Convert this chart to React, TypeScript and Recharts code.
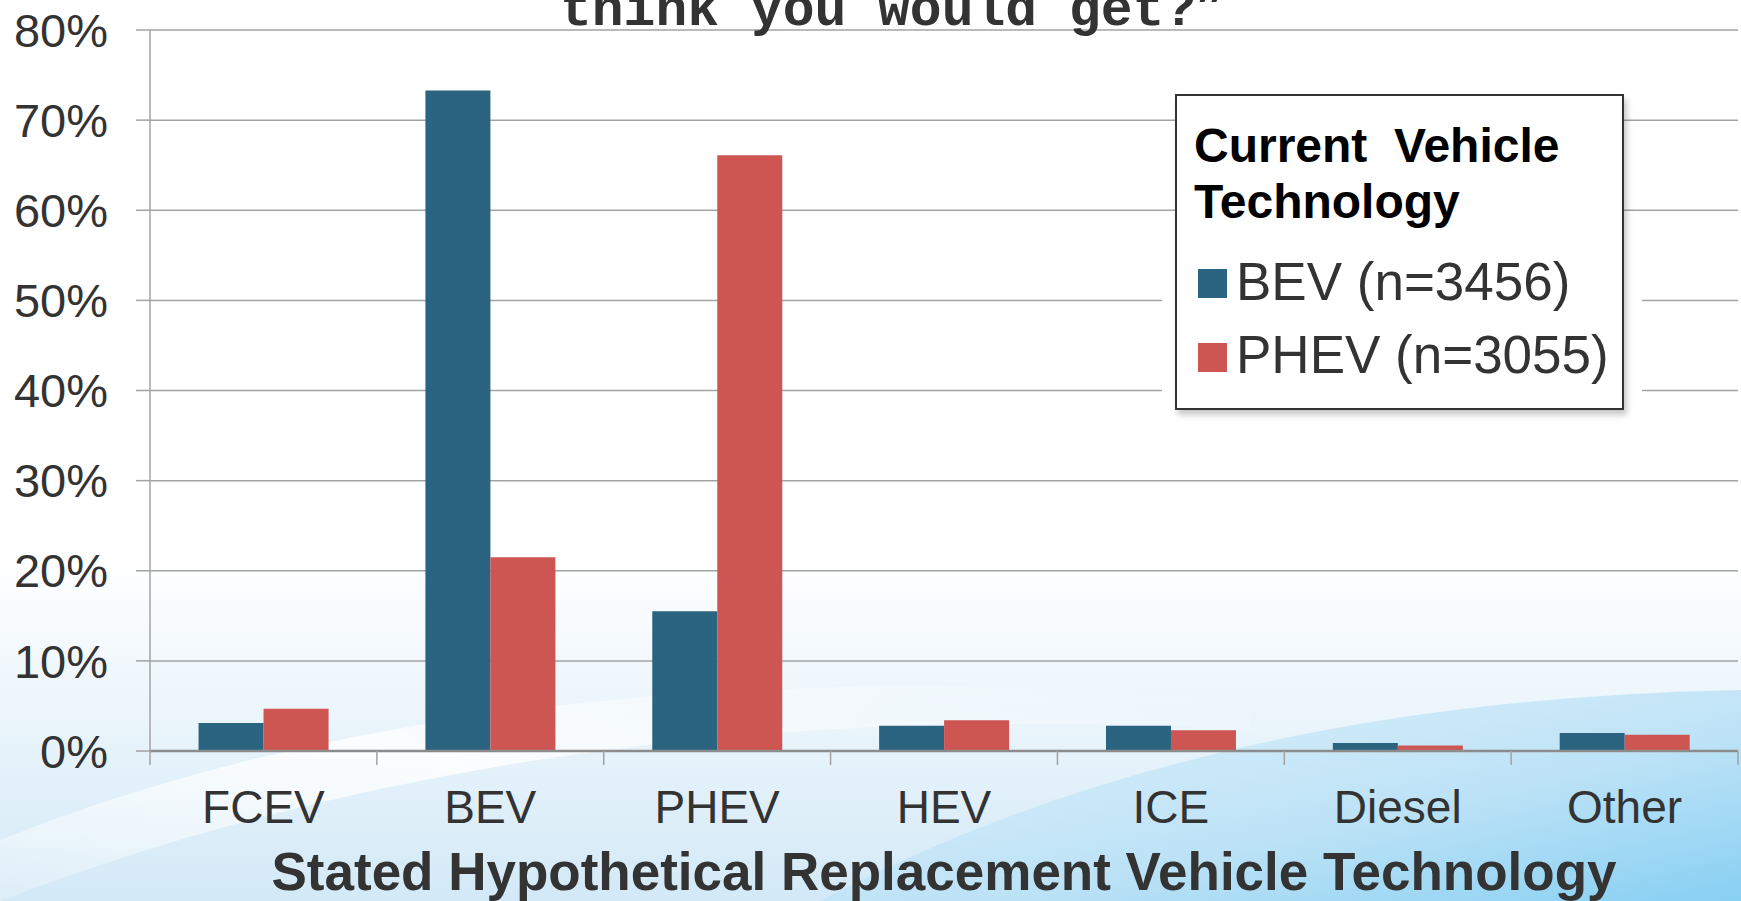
import React from 'react';
import { BarChart, Bar, XAxis, YAxis, CartesianGrid, Legend, Label } from 'recharts';

// values (percent of respondents)
const categories = ['FCEV', 'BEV', 'PHEV', 'HEV', 'ICE', 'Diesel', 'Other'];
const bevOwners = [3.1, 73.3, 15.5, 2.8, 2.8, 0.9, 2.0];
const phevOwners = [4.7, 21.5, 66.1, 3.4, 2.3, 0.6, 1.8];
const yTicks = [0, 10, 20, 30, 40, 50, 60, 70, 80];
const seriesNames = ['BEV (n=3456)', 'PHEV (n=3055)'];
const legendTitle = ['Current  Vehicle', 'Technology'];
const chartTitle = 'think you would get?\u201d';
const xTitle = 'Stated Hypothetical Replacement Vehicle Technology';

const data = categories.map((name, i) => ({ name, bev: bevOwners[i], phev: phevOwners[i] }));

const W = 1741;
const H = 901;
const Y_AXIS_W = 150;
const RIGHT = 3;
const BAND = (W - Y_AXIS_W - RIGHT) / categories.length;
const FONT = '"Liberation Sans", Arial, Helvetica, sans-serif';
const BLUE = '#2a6481';
const RED = '#cd5552';
const GRID = '#a3a3a3';

const XTick = (props: any) => {
  const { x, y, payload, index } = props;
  const last = index === categories.length - 1;
  return (
    <g>
      <line x1={x - BAND / 2} x2={x - BAND / 2} y1={y} y2={y + 14} stroke={GRID} strokeWidth={1.5} />
      {last && <line x1={x + BAND / 2} x2={x + BAND / 2} y1={y} y2={y + 14} stroke={GRID} strokeWidth={1.5} />}
      <text x={x} y={y + 72} textAnchor="middle" fontSize={46} fill="#333" fontFamily={FONT}>
        {payload.value}
      </text>
    </g>
  );
};

const renderLegend = (props: any) => {
  const items = props.payload || [];
  return (
    <div style={{ position: 'relative', width: 480, height: 326 }}>
      {/* white clearance behind the box that hides the gridlines */}
      <div style={{ position: 'absolute', left: 0, top: 153, width: 480, height: 173, background: '#fff' }} />
      <div
        style={{
          position: 'absolute',
          left: 13,
          top: 0,
          width: 449,
          height: 316,
          boxSizing: 'border-box',
          border: '2px solid #333',
          background: '#fff',
          boxShadow: '3px 5px 6px rgba(0,0,0,0.22)',
        }}
      >
        <svg width={449} height={316} style={{ position: 'absolute', left: -2, top: -2, overflow: 'visible' }}>
          {legendTitle.map((t, i) => (
            <text key={t} x={19} y={68 + i * 56} fontSize={48} fontWeight="bold" fill="#000" fontFamily={FONT} style={{ whiteSpace: 'pre' }}>
              {t}
            </text>
          ))}
          {items.map((it: any, i: number) => (
            <g key={it.value}>
              <rect x={23} y={175 + i * 74} width={29} height={29} fill={it.color} />
              <text x={61} y={206 + i * 73} fontSize={53} fill="#333" fontFamily={FONT}>
                {it.value}
              </text>
            </g>
          ))}
        </svg>
      </div>
    </div>
  );
};

const Background = () => (
  <svg width={W} height={H} style={{ position: 'absolute', left: 0, top: 0 }}>
    <defs>
      <linearGradient id="bgFade" x1="0" y1="0" x2="0" y2="1">
        <stop offset="0" stopColor="#ffffff" />
        <stop offset="0.62" stopColor="#ffffff" />
        <stop offset="1" stopColor="#d3e9f7" />
      </linearGradient>
      <linearGradient id="blueSweep" x1="0" y1="0" x2="1" y2="1">
        <stop offset="0" stopColor="#e3f2fb" />
        <stop offset="0.6" stopColor="#b9e1f6" />
        <stop offset="1" stopColor="#7fcdf2" />
      </linearGradient>
      <linearGradient id="whiteBand" x1="0" y1="1" x2="1" y2="0">
        <stop offset="0" stopColor="#ffffff" stopOpacity="0.2" />
        <stop offset="0.5" stopColor="#ffffff" stopOpacity="0.85" />
        <stop offset="1" stopColor="#ffffff" stopOpacity="0" />
      </linearGradient>
    </defs>
    <rect x={0} y={0} width={W} height={H} fill="url(#bgFade)" />
    <path d="M 820 901 Q 1200 700 1741 690 L 1741 901 Z" fill="url(#blueSweep)" opacity={0.9} />
    <path d="M 0 840 Q 500 640 1250 700 L 1250 730 Q 550 690 0 901 Z" fill="url(#whiteBand)" />
  </svg>
);

export default function App() {
  return (
    <div style={{ position: 'absolute', left: 0, top: 0, width: W, height: H, overflow: 'hidden', background: '#fff', fontFamily: FONT }}>
      <Background />
      <div style={{ position: 'absolute', left: 0, top: 0 }}>
        <BarChart
          width={W}
          height={H}
          data={data}
          margin={{ top: 30, right: RIGHT, bottom: 0, left: 0 }}
          barCategoryGap="21.4%"
          barGap={0}
        >
          <CartesianGrid vertical={false} stroke={GRID} strokeWidth={1.5} />
          <XAxis
            dataKey="name"
            height={150}
            interval={0}
            tickLine={false}
            tickSize={0}
            tickMargin={0}
            tick={<XTick />}
            axisLine={{ stroke: '#8c8c8c', strokeWidth: 2.5 }}
          >
            <Label
              value={xTitle}
              position="insideBottom"
              offset={11}
              fontSize={53}
              fontWeight="bold"
              fill="#333"
              fontFamily={FONT}
            />
          </XAxis>
          <YAxis
            width={Y_AXIS_W}
            domain={[0, 80]}
            ticks={yTicks}
            interval={0}
            tickFormatter={(v: number) => `${v}%`}
            tickSize={14}
            tickMargin={28}
            tickLine={{ stroke: GRID, strokeWidth: 1.5 }}
            axisLine={{ stroke: GRID, strokeWidth: 1.5 }}
            tick={{ fontSize: 47, fill: '#333', fontFamily: FONT }}
          />
          <Legend
            layout="vertical"
            align="center"
            verticalAlign="middle"
            wrapperStyle={{ left: 1162, top: 94, width: 480, height: 326 }}
            content={renderLegend}
          />
          <Bar dataKey="bev" name={seriesNames[0]} fill={BLUE} isAnimationActive={false} />
          <Bar dataKey="phev" name={seriesNames[1]} fill={RED} isAnimationActive={false} />
        </BarChart>
      </div>
      <svg width={W} height={60} style={{ position: 'absolute', left: 0, top: 0, pointerEvents: 'none' }}>
        <text x={560} y={25} fontSize={53} fontWeight="bold" fill="#333" fontFamily='"Liberation Mono", "Courier New", monospace'>
          {chartTitle}
        </text>
      </svg>
    </div>
  );
}
